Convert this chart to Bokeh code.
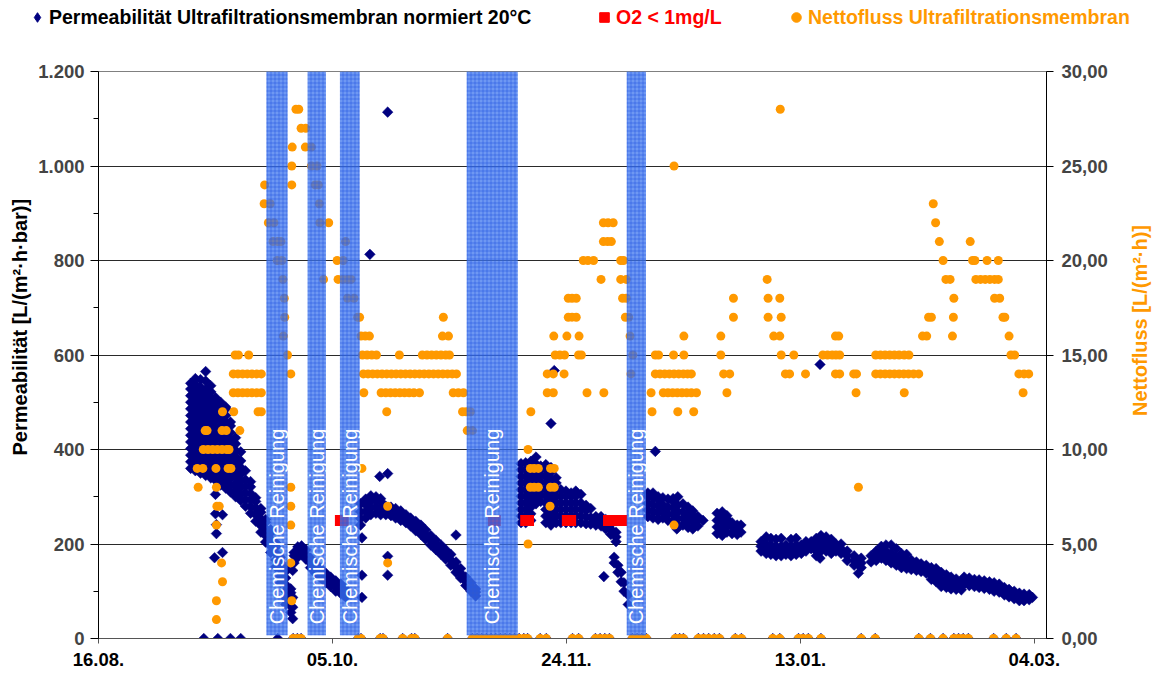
import math
from bokeh.plotting import figure
from bokeh.layouts import row
from bokeh.models import Range1d, LinearAxis, FixedTicker, Legend, LegendItem, Title
from bokeh.core.properties import value
from bokeh.embed import file_html
from bokeh.resources import INLINE

FONT = "Liberation Sans"
NAVY = "#000080"
ORANGE = "#ff9900"
RED = "#ff0000"

# ---------------- axes / ticks (x = days after 16.08.) ----------------
x_tick_days = [0, 50, 100, 150, 200]
x_tick_labels = ["16.08.", "05.10.", "24.11.", "13.01.", "04.03."]
perm_ticks = [0, 200, 400, 600, 800, 1000, 1200]
perm_minor_ticks = [100, 300, 500, 700, 900, 1100]
perm_tick_labels = ["0", "200", "400", "600", "800", "1.000", "1.200"]
flux_ticks = [0, 5, 10, 15, 20, 25, 30]
flux_tick_labels = ["0,00", "5,00", "10,00", "15,00", "20,00", "25,00", "30,00"]

perm_axis_title = "Permeabilität [L/(m²·h·bar)]"
flux_axis_title = "Nettofluss [L/(m²·h)]"
legend_labels = ["Permeabilität Ultrafiltrationsmembran normiert 20°C",
                 "O2 < 1mg/L", "Nettofluss Ultrafiltrationsmembran"]

# ---------------- chemical cleaning periods (days) ----------------
cleaning_start = [35.9, 44.7, 51.6, 78.7, 112.9]
cleaning_end = [40.4, 48.6, 55.8, 89.6, 117.0]
cleaning_text = "Chemische Reinigung"

# ---------------- O2 < 1 mg/L markers ----------------
o2_days = [51.7, 52.3, 84.4, 84.8, 91.3, 91.9, 100.2, 100.9, 109.0, 109.9, 110.8, 111.8]
o2_values = [250, 250, 250, 250, 250, 250, 250, 250, 250, 250, 250, 250]

# ---------------- permeability readings: (day, [values]) ----------------
perm_seg1 = [
    (19.7, [360, 374, 388, 402, 416, 430, 444, 458, 472, 486, 500, 514, 528, 540]),
    (20.7, [355, 369, 383, 397, 411, 425, 439, 453, 467, 481, 495, 509, 523, 537, 550]),
    (21.8, [350, 364, 378, 392, 406, 420, 434, 448, 462, 476, 490, 504, 518, 532, 548]),
    (22.9, [345, 359, 373, 387, 401, 415, 429, 443, 457, 471, 485, 499, 513, 527, 545, 565]),
    (24.0, [340, 354, 368, 382, 396, 410, 424, 438, 452, 466, 480, 494, 508, 522, 535]),
    (24.8, [171]),
    (25.0, [264, 305, 335, 349, 363, 377, 391, 405, 419, 433, 447, 461, 475, 489, 503, 510]),
    (25.2, [222, 241]),
    (26.1, [325, 339, 353, 367, 381, 395, 409, 423, 437, 451, 465, 479, 493, 500]),
    (26.5, [182, 262]),
    (27.2, [318, 332, 346, 360, 374, 388, 402, 416, 430, 444, 458, 472, 486, 490]),
    (28.2, [310, 324, 338, 352, 366, 380, 394, 408, 422, 436, 450, 458]),
    (29.3, [300, 314, 328, 342, 356, 370, 384, 398, 412, 425]),
    (30.4, [292, 306, 320, 334, 348, 362, 376, 395]),
    (31.4, [280, 294, 308, 322, 336, 355]),
    (32.5, [265, 279, 293, 307, 321, 332]),
    (33.6, [248, 262, 276, 290, 298]),
    (34.7, [225, 239, 253, 267, 275]),
    (35.7, [204, 218, 232, 246, 252]),
    (36.8, [182, 196, 210, 224, 230]),
    (37.9, [152, 166, 180, 194, 202]),
    (38.9, [118, 132, 146, 160, 172]),
    (40.0, [72, 86, 100, 114, 128, 142, 148]),
    (41.1, [55, 69, 83, 97, 105]),
]
perm_seg2 = [
    (41.5, [42, 66, 87, 144]),
    (41.8, [160, 175, 182]),
    (42.6, [172, 184, 194]),
    (43.4, [178, 188, 196]),
    (44.3, [168, 178, 188]),
    (45.3, [150, 160, 170]),
    (46.4, [138, 148, 158]),
    (47.5, [128, 138, 148]),
    (48.6, [118, 128, 138]),
    (49.6, [110, 120, 130]),
    (50.7, [100, 112, 122]),
    (51.8, [95, 105, 115]),
    (52.8, [88, 96, 105]),
]
perm_seg3 = [
    (56.0, [240, 254, 268, 285]),
    (56.3, [87, 134, 213]),
    (57.1, [255, 269, 283, 295]),
    (58.0, [813]),
    (58.2, [262, 276, 290, 302]),
    (59.3, [265, 279, 293, 300]),
    (60.1, [343]),
    (60.3, [262, 276, 290, 296]),
    (61.4, [262, 272, 280]),
    (61.8, [134, 174, 349, 1114]),
    (62.5, [260, 270, 278]),
    (63.5, [255, 265, 275]),
    (64.6, [250, 260, 270]),
    (65.7, [245, 254, 262]),
    (66.7, [238, 247, 255]),
    (67.8, [228, 238, 248]),
    (68.9, [220, 230, 240]),
    (69.9, [210, 220, 230]),
    (71.0, [198, 208, 218]),
    (72.1, [188, 198, 208]),
    (73.2, [178, 188, 198]),
    (74.2, [168, 178, 188]),
    (75.3, [155, 166, 178]),
    (76.4, [140, 151, 162, 219]),
    (77.4, [128, 138, 148]),
    (78.5, [112, 121, 130]),
    (79.6, [100, 109, 118]),
    (80.6, [90, 98, 105]),
]
perm_seg4 = [
    (90.3, [245, 259, 273, 287, 301, 315, 329, 343, 357, 370]),
    (91.3, [245, 259, 273, 287, 301, 315, 329, 343, 357, 372]),
    (92.4, [250, 264, 278, 292, 306, 320, 334, 348, 362, 375]),
    (93.5, [285, 299, 313, 327, 341, 355, 369, 384]),
    (94.5, [290, 304, 318, 332, 346, 360, 365]),
    (95.6, [245, 259, 273, 287, 301, 315, 329, 343, 357, 368]),
    (96.7, [240, 254, 268, 282, 296, 310, 324, 338, 352, 362, 455]),
    (97.4, [567]),
    (97.8, [245, 259, 273, 287, 301, 315, 329, 340]),
    (98.8, [245, 259, 273, 287, 301, 315]),
    (99.9, [245, 259, 273, 287, 301, 312]),
    (101.0, [245, 259, 273, 287, 301, 308]),
    (102.0, [245, 259, 273, 287, 301, 312]),
    (103.1, [245, 259, 273, 287, 305]),
    (104.2, [243, 257, 271, 282]),
    (105.2, [242, 256, 275]),
    (106.3, [240, 250, 258]),
    (107.4, [238, 248, 258]),
    (108.0, [131]),
    (108.4, [232, 242, 252]),
    (109.5, [220, 231, 242]),
    (110.2, [160, 172]),
    (110.6, [205, 215, 225]),
    (111.0, [140, 155]),
    (111.7, [120, 140]),
    (112.3, [100, 118]),
    (113.2, [72, 92]),
]
perm_seg5 = [
    (117.4, [258, 272, 286, 300, 308]),
    (118.5, [255, 269, 283, 297, 308]),
    (119.0, [396]),
    (119.6, [252, 266, 280, 294, 300]),
    (120.6, [255, 269, 283, 298]),
    (121.7, [250, 264, 278, 295]),
    (122.8, [248, 262, 276, 290, 296]),
    (123.6, [232]),
    (123.8, [240, 254, 268, 282, 300]),
    (124.9, [240, 254, 268, 285]),
    (126.0, [235, 249, 263, 278]),
    (127.0, [232, 246, 260, 270]),
    (128.1, [238, 252, 258]),
    (129.2, [250]),
]
perm_seg6 = [
    (132.2, [222, 236, 250, 265]),
    (133.3, [218, 232, 246, 260, 268]),
    (134.3, [225, 239, 253, 260]),
    (135.4, [222, 236, 245]),
    (136.5, [220, 232, 240]),
    (137.3, [225, 240]),
]
perm_seg7 = [
    (141.6, [185, 195, 205]),
    (142.7, [180, 190, 200, 215]),
    (143.7, [178, 188, 198, 212]),
    (144.8, [175, 185, 195, 210]),
    (145.9, [175, 185, 195, 212]),
    (146.9, [178, 188, 198]),
    (148.0, [175, 185, 195, 210]),
    (149.1, [178, 188, 198, 212]),
    (150.2, [180, 190, 198]),
    (151.2, [185, 195, 205]),
    (152.3, [190, 198, 205]),
    (153.4, [175, 185, 195, 212]),
    (154.2, [170, 580]),
    (154.4, [185, 195, 205, 218]),
    (155.5, [185, 195, 205, 215]),
    (156.6, [180, 190, 200, 210]),
    (157.6, [185, 192, 200]),
    (158.7, [180, 190, 200]),
]
perm_seg8 = [
    (160.0, [165, 175, 185]),
    (161.5, [155, 165, 175]),
    (162.4, [138]),
    (163.0, [150, 160, 170]),
    (165.1, [162, 175]),
    (166.2, [165, 175, 185]),
    (167.3, [170, 182, 195]),
    (168.3, [165, 175, 185, 198]),
    (169.4, [160, 170, 180, 198]),
    (170.5, [155, 164, 172, 190]),
    (171.6, [150, 160, 168, 180]),
    (172.7, [148, 157, 165, 178]),
    (173.7, [146, 156, 166]),
    (174.8, [144, 153, 162]),
    (175.8, [142, 150, 158]),
    (176.9, [138, 146, 155]),
    (178.0, [125, 133, 140, 150]),
    (179.0, [120, 128, 135, 148]),
    (180.1, [110, 118, 125, 140]),
    (181.2, [108, 115, 122, 135]),
    (182.2, [105, 112, 118, 130]),
    (183.3, [104, 111, 118, 126]),
    (184.4, [103, 110, 118]),
]
perm_seg9 = [
    (185.0, [115, 122, 130]),
    (186.1, [112, 120, 128]),
    (187.2, [110, 118, 125]),
    (188.2, [108, 116, 124]),
    (189.3, [106, 114, 122]),
    (190.4, [104, 112, 120]),
    (191.4, [100, 109, 118]),
    (192.5, [98, 106, 115]),
    (193.6, [92, 100, 108]),
    (194.6, [88, 96, 104]),
    (195.7, [84, 92, 100]),
    (196.8, [80, 88, 96]),
    (197.8, [80, 87, 94]),
    (198.9, [82, 88, 93]),
    (199.6, [87]),
]
# permeability = 0 only
perm_zero_days = [22.5, 25.5, 28.2, 30.4, 38.3]
# both series = 0 (plant off)
zero_days = [41.6, 42.5, 43.3, 55.5, 56.1, 60.2, 60.8, 65.0, 66.9, 67.6, 74.6,
             79.9, 80.9, 81.9, 82.9, 83.9, 84.9, 85.9, 86.9, 87.9, 88.9, 89.9, 90.9, 91.7,
             94.4, 95.7, 101.3, 102.6, 106.2, 107.2, 108.2, 109.2,
             114.1, 115.1, 116.1, 117.1, 123.3, 124.2, 125.0,
             128.2, 129.3, 130.4, 131.6, 132.7, 136.1, 137.4, 144.1, 145.6,
             149.6, 150.6, 151.7, 154.4, 163.0, 166.0, 175.3, 177.8, 180.5,
             182.8, 183.8, 184.8, 185.9, 191.3, 194.0, 196.1]

# ---------------- net flux readings: (level, [days]) ----------------
flux_high = [
    (28, [42.2, 42.8, 145.7]),
    (27, [43.3, 44.3]),
    (26, [41.4, 44.2, 45.5]),
    (25, [41.3, 45.5, 46.7, 123.0]),
    (24, [35.5, 41.3, 46.3, 47.0]),
    (23, [35.4, 36.7, 47.2, 178.4]),
    (22, [36.3, 37.5, 47.3, 49.2, 107.9, 108.9, 110.0, 178.9]),
    (21, [37.3, 38.3, 39.0, 52.8, 107.9, 108.8, 109.6, 179.7, 186.3]),
    (20, [38.2, 39.2, 51.0, 52.3, 103.6, 104.6, 105.8, 111.6, 112.2, 180.5, 186.8, 187.3, 189.9, 192.3]),
]
flux_mid = [
    (19, [39.4, 48.1, 51.2, 52.2, 53.2, 54.0, 107.4, 111.6, 112.8, 142.9, 181.1, 182.0,
          187.5, 188.5, 189.5, 190.5, 191.5, 192.3]),
    (18, [39.7, 53.2, 54.6, 100.4, 101.2, 102.1, 112.0, 112.8, 135.7, 143.1, 145.6, 182.8, 191.5, 192.6]),
    (17, [39.8, 55.4, 55.8, 73.7, 100.4, 101.2, 102.1, 112.6, 113.3, 135.7, 143.1, 145.9,
          177.4, 178.0, 182.7, 193.3, 193.7]),
    (16, [39.5, 56.1, 57.0, 57.9, 73.5, 74.8, 97.3, 100.1, 102.7, 113.6, 125.1, 133.0,
          144.3, 145.6, 157.5, 158.2, 176.1, 177.0, 182.5, 194.6]),
    (15, [29.2, 29.9, 32.1, 40.4, 56.4, 57.4, 58.4, 59.4, 64.3, 69.2, 70.2, 71.2, 72.2, 73.2,
          74.2, 75.0, 97.6, 98.6, 99.6, 102.6, 103.2, 114.2, 119.0, 119.7, 122.9, 125.1, 133.0,
          145.9, 148.6, 154.8, 155.8, 156.8, 157.6, 158.4, 166.1, 167.1, 168.1, 169.1, 170.1,
          171.1, 172.2, 173.2, 195.0, 195.8]),
]
flux_low = [
    (14, [28.8, 29.8, 30.8, 31.8, 32.8, 33.8, 34.8, 41.1, 56.6, 57.6, 58.6, 59.6, 60.6, 61.6,
          62.6, 63.6, 64.6, 65.6, 66.6, 67.6, 68.6, 69.6, 70.6, 71.6, 72.6, 73.6, 74.6, 75.6,
          76.5, 95.9, 97.2, 99.5, 113.8, 119.0, 120.0, 121.0, 122.0, 123.0, 124.0, 125.0,
          125.9, 126.7, 133.6, 134.9, 146.8, 147.7, 151.1, 157.5, 158.4, 161.4, 162.0, 166.1,
          167.1, 168.1, 169.1, 170.1, 171.1, 172.1, 173.1, 174.2, 175.3, 196.7, 197.8, 198.8]),
    (13, [28.8, 29.8, 30.8, 31.8, 32.8, 33.8, 34.8, 56.7, 60.4, 61.4, 62.4, 63.4, 64.4, 65.4,
          66.4, 67.4, 68.6, 75.8, 76.9, 78.0, 95.9, 97.2, 104.4, 108.0, 118.1, 120.7, 121.7,
          122.7, 123.7, 124.7, 125.7, 126.7, 127.8, 134.3, 161.9, 172.2, 197.6]),
    (12, [26.5, 28.9, 34.1, 34.8, 61.6, 77.8, 78.6, 79.5, 92.4, 118.3, 123.8, 127.2]),
    (11, [22.8, 23.2, 26.4, 27.3, 30.2, 78.8, 79.9]),
    (10, [22.4, 23.4, 24.4, 25.4, 26.4, 27.4, 27.9, 91.8]),
    (9, [21.1, 22.3, 25.1, 27.7, 28.3, 56.3, 92.3, 93.1, 94.0, 96.6, 97.4]),
    (8, [21.3, 25.2, 41.1, 92.3, 93.1, 94.0, 96.6, 97.4, 162.4]),
    (7, [25.3, 25.8, 41.1, 61.8, 96.5]),
    (6, [25.2, 41.1, 123.0]),
    (5, [91.8]),
    (4, [26.3, 41.1, 61.8]),
    (3, [26.5]),
    (2, [25.2, 41.3]),
    (1, [25.2]),
]

# ---------------- build flat series ----------------
perm_x, perm_y = [], []
for seg in (perm_seg1, perm_seg2, perm_seg3, perm_seg4, perm_seg5,
            perm_seg6, perm_seg7, perm_seg8, perm_seg9):
    for d, vals in seg:
        for v in vals:
            perm_x.append(d)
            perm_y.append(v)
for d in perm_zero_days + zero_days:
    perm_x.append(d)
    perm_y.append(0)

flux_x, flux_y = [], []
for grp in (flux_high, flux_mid, flux_low):
    for lvl, days in grp:
        for d in days:
            flux_x.append(d)
            flux_y.append(lvl)
for d in zero_days:
    flux_x.append(d)
    flux_y.append(0)

# ---------------- main figure ----------------
p = figure(width=1125, height=639, x_range=Range1d(0, 202.6), y_range=Range1d(0, 1200),
           output_backend="svg", toolbar_location=None, title=None,
           min_border_left=98, min_border_right=79, min_border_top=31, min_border_bottom=41)
p.background_fill_color = "white"
p.border_fill_color = "white"
p.outline_line_color = "#808080"
p.outline_line_width = 1
p.extra_y_ranges = {"flux": Range1d(0, 30)}

p.xgrid.visible = False
p.ygrid.ticker = FixedTicker(ticks=perm_ticks)
p.ygrid.grid_line_color = "#2a2a2a"
p.ygrid.grid_line_width = 1

tick_font_size = "18.5px"

xa = p.xaxis[0]
xa.ticker = FixedTicker(ticks=x_tick_days)
xa.major_label_overrides = dict(zip(x_tick_days, x_tick_labels))
xa.axis_line_color = "#555555"
xa.major_tick_line_color = "#555555"
xa.major_tick_in = 0
xa.major_tick_out = 5
xa.minor_tick_line_color = None
xa.major_label_standoff = 9
xa.major_label_text_font = FONT
xa.major_label_text_font_style = "bold"
xa.major_label_text_font_size = tick_font_size
xa.major_label_text_color = "black"

ya = p.yaxis[0]
ya.ticker = FixedTicker(ticks=perm_ticks, minor_ticks=perm_minor_ticks)
ya.major_label_overrides = dict(zip(perm_ticks, perm_tick_labels))
ya.axis_line_color = "black"
ya.major_tick_line_color = "black"
ya.minor_tick_line_color = "black"
ya.major_tick_in = 0
ya.major_tick_out = 8
ya.minor_tick_in = 0
ya.minor_tick_out = 5
ya.major_label_standoff = 6
ya.major_label_text_font = FONT
ya.major_label_text_font_style = "bold"
ya.major_label_text_font_size = tick_font_size

# left axis title: starts a little above the "0"-"200" band, reads bottom-to-top
p.add_layout(Title(text=perm_axis_title, align="left", offset=183, standoff=9,
                   text_font=FONT, text_font_style="bold", text_font_size="20px",
                   text_color="black"), "left")

yr = LinearAxis(y_range_name="flux", ticker=FixedTicker(ticks=flux_ticks),
                major_label_overrides=dict(zip(flux_ticks, flux_tick_labels)))
yr.axis_line_color = "black"
yr.major_tick_line_color = "black"
yr.minor_tick_line_color = None
yr.major_tick_in = 0
yr.major_tick_out = 7
yr.major_label_standoff = 8
yr.major_label_text_font = FONT
yr.major_label_text_font_style = "bold"
yr.major_label_text_font_size = tick_font_size
p.add_layout(yr, "right")

# ---------------- glyphs ----------------
r_perm = p.scatter(perm_x, perm_y, marker="square", angle=math.pi / 4, size=7.5,
                   fill_color=NAVY, line_color=NAVY, line_width=0.5)
r_o2 = p.scatter(o2_days, o2_values, marker="square", size=11,
                 fill_color=RED, line_color=RED, line_width=0)
r_flux = p.scatter(flux_x, flux_y, y_range_name="flux", marker="circle", size=9,
                   fill_color=ORANGE, line_color=ORANGE, line_width=0)

p.quad(left=cleaning_start, right=cleaning_end, bottom=7, top=1200,
       fill_color="#3d75ee", fill_alpha=0.75, line_color=None,
       hatch_pattern="+", hatch_scale=4, hatch_color="#2458e0", hatch_alpha=0.55, hatch_weight=1)

centers = [(a + b) / 2 for a, b in zip(cleaning_start, cleaning_end)]
p.text(x=centers, y=[30] * len(centers), text=[cleaning_text] * len(centers),
       angle=math.pi / 2, text_align="left", text_baseline="middle",
       text_color="white", text_font=value(FONT), text_font_size="20px")

# ---------------- right axis title strip (reads bottom-to-top) ----------------
side = figure(width=28, height=639, x_range=Range1d(0, 1), y_range=Range1d(0, 1200),
              output_backend="svg", toolbar_location=None, title=None,
              x_axis_location=None, y_axis_location=None,
              min_border_left=0, min_border_right=0, min_border_top=31, min_border_bottom=41)
side.outline_line_color = None
side.background_fill_color = "white"
side.border_fill_color = "white"
side.xgrid.visible = False
side.ygrid.visible = False
side.text(x=[0.5], y=[673], text=[flux_axis_title], angle=math.pi / 2,
          text_align="center", text_baseline="middle", text_color=ORANGE,
          text_font=value(FONT), text_font_style="bold", text_font_size="20px")

# ---------------- legend strip above the chart (separate root) ----------------
lf = figure(width=1153, height=40, x_range=Range1d(0, 1153), y_range=Range1d(0, 40),
            output_backend="svg", toolbar_location=None, title=None,
            x_axis_location=None, y_axis_location=None, min_border=0)
lf.outline_line_color = None
lf.background_fill_color = "white"
lf.border_fill_color = "white"
lf.xgrid.visible = False
lf.ygrid.visible = False
# legend sample glyphs (single point each, placed outside the visible range)
lg_perm = lf.scatter([-50], [-50], marker="diamond", size=10, fill_color=NAVY, line_color=NAVY)
lg_o2 = lf.scatter([-50], [-50], marker="square", size=10, fill_color=RED, line_color=RED)
lg_flux = lf.scatter([-50], [-50], marker="circle", size=10, fill_color=ORANGE, line_color=ORANGE)


def add_legend(label, rend, color, vx):
    lg = Legend(items=[LegendItem(label=label, renderers=[rend])], location=(vx, 11),
                orientation="horizontal", padding=0, margin=0, spacing=0,
                glyph_width=24, glyph_height=24, label_height=24, label_standoff=0,
                border_line_color=None, background_fill_alpha=0)
    lg.label_text_font = FONT
    lg.label_text_font_style = "bold"
    lg.label_text_font_size = "19.5px"
    lg.label_text_color = color
    lf.add_layout(lg, "center")


add_legend(legend_labels[0], lg_perm, "black", 25)
add_legend(legend_labels[1], lg_o2, RED, 592)
add_legend(legend_labels[2], lg_flux, ORANGE, 784)

main_row = row(p, side, spacing=0)
open("out.html", "w").write(file_html([lf, main_row], INLINE))
